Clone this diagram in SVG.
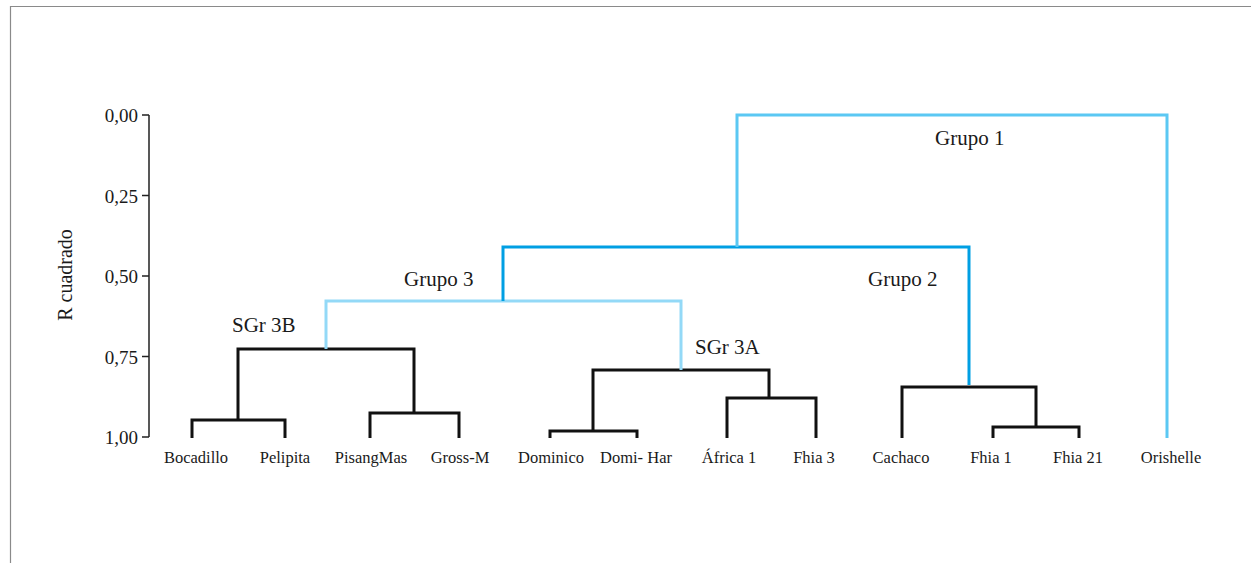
<svg xmlns="http://www.w3.org/2000/svg" width="1251" height="563" viewBox="0 0 1251 563">
<style>
text{font-family:"Liberation Serif","Times New Roman",serif;fill:#1a1a1a}
.tick{font-size:19px;text-anchor:end}
.leaf{font-size:16.5px;text-anchor:middle}
.grp{font-size:21px}
.k{fill:none;stroke:#111;stroke-width:3}
.g1{fill:none;stroke:#5bc8f3;stroke-width:3}
.g2{fill:none;stroke:#009fe3;stroke-width:3}
.g3{fill:none;stroke:#93d9f7;stroke-width:3}
.ax{fill:none;stroke:#222;stroke-width:1.5}
</style>
<rect width="1251" height="563" fill="#fff"/>
<path d="M10.5 563 V6.5 H1251" fill="none" stroke="#8a8a8a" stroke-width="1.2"/>
<g id="axis">
<path class="ax" d="M149 115 V437 M142 115 H149 M142 195.5 H149 M142 276 H149 M142 356.5 H149 M142 437 H149"/>
<text class="tick" x="138" y="122">0,00</text>
<text class="tick" x="138" y="202.5">0,25</text>
<text class="tick" x="138" y="283">0,50</text>
<text class="tick" x="138" y="363.5">0,75</text>
<text class="tick" x="138" y="444">1,00</text>
<text x="72" y="275" font-size="20" text-anchor="middle" transform="rotate(-90 72 275)">R cuadrado</text>
</g>
<g id="connectors">
<path class="k" d="M192 438 V420 H285 V438"/>
<path class="k" d="M370 438 V413 H459 V438"/>
<path class="k" d="M238 420 V349 H414 V413"/>
<path class="k" d="M550 438 V431 H637 V438"/>
<path class="k" d="M727 438 V398 H816 V438"/>
<path class="k" d="M593 431 V370 H769 V398"/>
<path class="k" d="M993 438 V427 H1079 V438"/>
<path class="k" d="M902 438 V387 H1036 V427"/>
<path class="g3" d="M326 349 V301 H681 V370"/>
<path class="g2" d="M503 301 V247 H969 V385"/>
<path class="g1" d="M737 247 V115 H1167 V438"/>
</g>
<g id="leaves">
<text class="leaf" x="196" y="463">Bocadillo</text>
<text class="leaf" x="285" y="463">Pelipita</text>
<text class="leaf" x="371" y="463">PisangMas</text>
<text class="leaf" x="460" y="463">Gross-M</text>
<text class="leaf" x="551" y="463">Dominico</text>
<text class="leaf" x="636" y="463">Domi- Har</text>
<text class="leaf" x="729" y="463">África 1</text>
<text class="leaf" x="814" y="463">Fhia 3</text>
<text class="leaf" x="901" y="463">Cachaco</text>
<text class="leaf" x="991" y="463">Fhia 1</text>
<text class="leaf" x="1078" y="463">Fhia 21</text>
<text class="leaf" x="1171" y="463">Orishelle</text>
</g>
<g id="labels">
<text class="grp" x="935" y="145">Grupo 1</text>
<text class="grp" x="868" y="286">Grupo 2</text>
<text class="grp" x="404" y="286">Grupo 3</text>
<text class="grp" x="232" y="332">SGr 3B</text>
<text class="grp" x="695" y="354">SGr 3A</text>
</g>
</svg>
